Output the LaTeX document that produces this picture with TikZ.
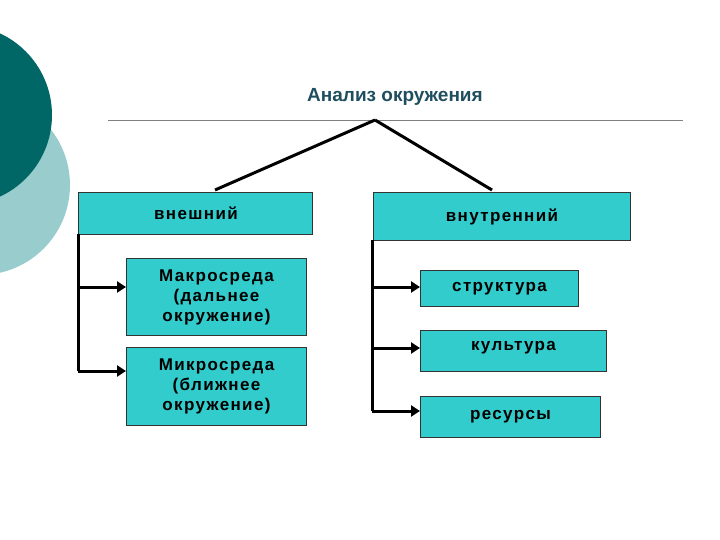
\documentclass[tikz,border=0pt]{standalone}
\usepackage{fontspec}
\setmainfont{Liberation Sans}
\newfontfamily\spc[LetterSpace=8]{Liberation Sans}
\usetikzlibrary{arrows.meta}
\definecolor{boxc}{HTML}{33CCCC}
\definecolor{dk}{HTML}{006666}
\definecolor{lt}{HTML}{99CCCC}
\definecolor{ttl}{HTML}{1F4E5E}
\begin{document}
\begin{tikzpicture}[x=1pt,y=-1pt,
  bx/.style={draw=black!80,fill=boxc,line width=1pt,font=\spc\bfseries\fontsize{17}{20}\selectfont,align=center,inner sep=0pt},
  ln/.style={line width=3pt,black},
  ar/.style={ln,-{Triangle[length=9pt,width=11pt]}}]
\useasboundingbox (0,0) rectangle (720,540);
\fill[lt] (-20,185) circle (90);
\fill[dk] (-38,115) circle (90);
\node[font=\bfseries\fontsize{19}{23}\selectfont,text=ttl] (t) at (395,97) {Анализ окружения};
\draw[gray,line width=0.8pt] (108,120) -- (683,120);
\coordinate (apex) at (375,120);
\node[bx,minimum width=234,minimum height=42,anchor=north west] (ext) at (78,192) {};
\node[font=\spc\bfseries\fontsize{17}{20}\selectfont] (extt) at (196,213) {внешний};
\node[bx,minimum width=257,minimum height=48,anchor=north west] (int) at (373,192) {внутренний};
\node[bx,minimum width=180,minimum height=77,anchor=north west] (mac) at (126,258) {Макросреда\\(дальнее\\окружение)};
\node[bx,minimum width=180,minimum height=78,anchor=north west] (mic) at (126,347) {Микросреда\\(ближнее\\окружение)};
\node[bx,minimum width=158,minimum height=36,anchor=north west] (str) at (420,270) {структура};
\node[bx,minimum width=186,minimum height=41,anchor=north west] (cul) at (420,330) {\raisebox{1.2ex}{культура}};
\node[bx,minimum width=180,minimum height=41,anchor=north west] (res) at (420,396) {\raisebox{-0.8ex}{ресурсы}};
\draw[ln] (apex) -- (215,190);
\draw[ln] (apex) -- (492,190);
\coordinate (l1) at (78,287); \coordinate (l2) at (78,371);
\draw[ln] (78,234) -- (l2);
\draw[ar] (l1) -- (mac.west|-l1);
\draw[ar] (l2) -- (mic.west|-l2);
\coordinate (r1) at (372,287); \coordinate (r2) at (372,348); \coordinate (r3) at (372,411);
\draw[ln] (372,240) -- (r3);
\draw[ar] (r1) -- (str.west|-r1);
\draw[ar] (r2) -- (cul.west|-r2);
\draw[ar] (r3) -- (res.west|-r3);
\end{tikzpicture}
\end{document}
